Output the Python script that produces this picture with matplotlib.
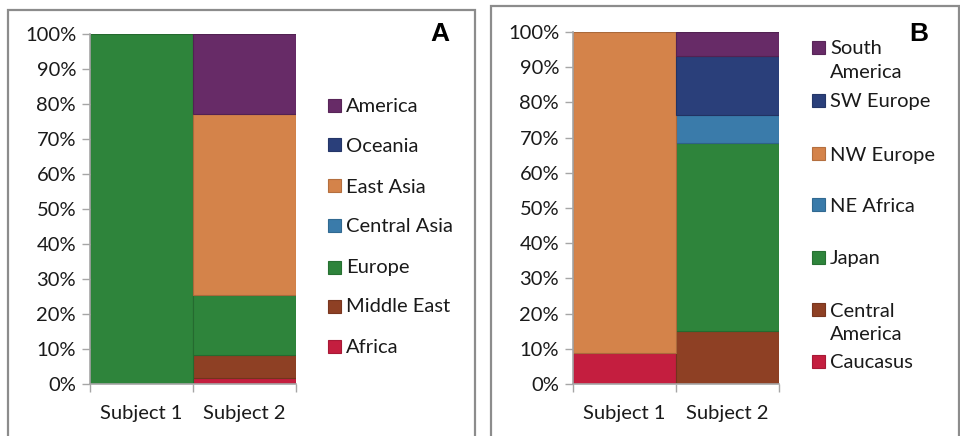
import matplotlib.pyplot as plt
from matplotlib.patches import Rectangle

plt.rcParams['font.family'] = ['Lato', 'DejaVu Sans']

subjects = ["Subject 1", "Subject 2"]

# panel A: continental ancestry, stacked bottom to top
regions_a = ["Africa", "Middle East", "Europe", "Central Asia", "East Asia", "Oceania", "America"]
values_a = {
    "Africa":       [0.0, 1.6],
    "Middle East":  [0.0, 6.6],
    "Europe":       [100.0, 17.1],
    "Central Asia": [0.0, 0.0],
    "East Asia":    [0.0, 51.8],
    "Oceania":      [0.0, 0.0],
    "America":      [0.0, 22.9],
}
colors_a = ["#c41e3f", "#8e4024", "#2e843b", "#3a7baa", "#d4834a", "#2a3f7a", "#672b67"]

# panel B: finer regions
regions_b = ["Caucasus", "Central\nAmerica", "Japan", "NE Africa", "NW Europe", "SW Europe", "South\nAmerica"]
values_b = {
    "Caucasus":          [8.9, 0.0],
    "Central\nAmerica":  [0.0, 15.1],
    "Japan":             [0.0, 53.3],
    "NE Africa":         [0.0, 8.0],
    "NW Europe":         [91.1, 0.0],
    "SW Europe":         [0.0, 16.9],
    "South\nAmerica":    [0.0, 6.7],
}
colors_b = ["#c41e3f", "#8e4024", "#2e843b", "#3a7baa", "#d4834a", "#2a3f7a", "#672b67"]

W, H = 960, 436
fig = plt.figure(figsize=(W / 100, H / 100), dpi=100)


def fx(px):
    return px / W


def fy(py):
    return 1 - py / H


def darker(c, f=0.8):
    r, g, b = [int(c[i:i + 2], 16) / 255 for i in (1, 3, 5)]
    return (r * f, g * f, b * f)


def stacked(ax, regions, values, colors):
    bottom = [0.0, 0.0]
    for reg, col in zip(regions, colors):
        vals = values[reg]
        for i, v in enumerate(vals):
            # zero-height segments would leave a stray edge line
            if v > 0:
                ax.bar(i, v, width=1.0, bottom=bottom[i], color=col,
                       edgecolor=darker(col), linewidth=0.8)
        bottom = [b + v for b, v in zip(bottom, vals)]
    ax.set_xlim(-0.5, 1.5)
    ax.set_ylim(0, 100)
    ax.set_yticks(range(0, 101, 10))
    ax.set_yticklabels([f"{t}%" for t in range(0, 101, 10)])
    ax.set_xticks(range(len(subjects)))
    ax.set_xticklabels(subjects)
    ax.set_xticks([-0.5, 0.5, 1.5], minor=True)
    ax.tick_params(axis='x', which='major', length=0, pad=15, labelsize=14.5, colors='#1a1a1a')
    ax.tick_params(axis='x', which='minor', length=6, width=1, color='#a6a6a6')
    ax.tick_params(axis='y', length=6, width=1, color='#a6a6a6', labelsize=14.5,
                   labelcolor='#1a1a1a', pad=4)
    for s in ('top', 'right'):
        ax.spines[s].set_visible(False)
    for s in ('left', 'bottom'):
        ax.spines[s].set_color('#a6a6a6')
        ax.spines[s].set_linewidth(1.2)


def legend(regions, colors, sq_x, sq_y):
    for reg, col, y in zip(regions, colors, sq_y):
        fig.patches.append(Rectangle((fx(sq_x), fy(y + 6.5)), fx(13), 13 / H,
                                     facecolor=col, edgecolor=darker(col, 0.85),
                                     linewidth=0.8, transform=fig.transFigure))
        fig.text(fx(sq_x + 18), fy(y - 7.5), reg, fontsize=14.5, color='#1a1a1a',
                 va='top', ha='left', linespacing=1.45)


# outer frames round each panel
for x0, y0, x1 in [(8, 10, 475), (491, 6, 959)]:
    fig.patches.append(Rectangle((fx(x0), -0.05), fx(x1 - x0), fy(y0) + 0.05,
                                 fill=False, edgecolor='#8c8c8c', linewidth=1.6,
                                 transform=fig.transFigure))

ax_a = fig.add_axes([fx(90), fy(384), fx(206), (384 - 34) / H])
stacked(ax_a, regions_a, values_a, colors_a)
ax_b = fig.add_axes([fx(573), fy(384), fx(206), (384 - 32) / H])
stacked(ax_b, regions_b, values_b, colors_b)

legend(regions_a[::-1], colors_a[::-1], 328, [105, 145, 186, 226, 267, 306, 346])
legend(regions_b[::-1], colors_b[::-1], 812, [48, 101, 154, 205, 257, 310, 361])

fig.text(fx(440), fy(34), "A", fontsize=19, fontweight='bold', family='Liberation Sans',
         ha='center', va='center')
fig.text(fx(919), fy(34), "B", fontsize=19, fontweight='bold', family='Liberation Sans',
         ha='center', va='center')

fig.savefig("out.png", dpi=100)
